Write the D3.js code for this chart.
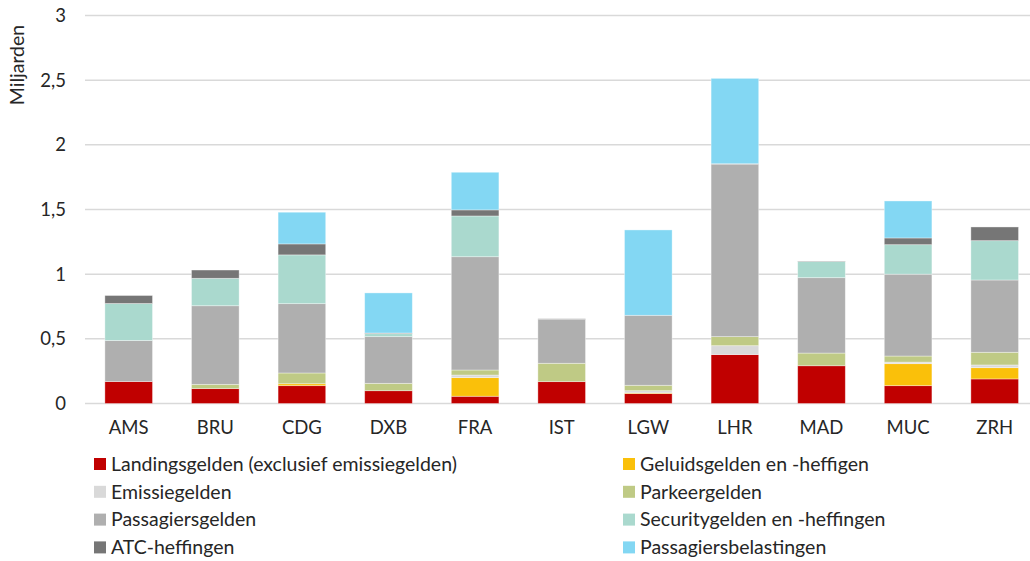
<!DOCTYPE html>
<html>
<head>
<meta charset="utf-8">
<script src="https://cdn.jsdelivr.net/npm/d3@7"></script>
<style>
body { margin: 0; background: #fff; }
svg text { font-family: Lato, "Open Sans", sans-serif; fill: #262626; }
</style>
</head>
<body>
<script>
var airports = ["AMS", "BRU", "CDG", "DXB", "FRA", "IST", "LGW", "LHR", "MAD", "MUC", "ZRH"];

var seriesNames = ["Landingsgelden (exclusief emissiegelden)", "Geluidsgelden en -heffigen",
    "Emissiegelden", "Parkeergelden", "Passagiersgelden", "Securitygelden en -heffingen",
    "ATC-heffingen", "Passagiersbelastingen"];

// values in miljarden, one array per series, in airport order
var landing    = [0.170, 0.115, 0.138, 0.099, 0.056, 0.169, 0.077, 0.378, 0.292, 0.138, 0.190];
var geluid     = [0,     0,     0.015, 0,     0.144, 0,     0.005, 0,     0,     0.170, 0.087];
var emissie    = [0,     0,     0,     0,     0.020, 0,     0.017, 0.069, 0,     0.012, 0.021];
var parkeer    = [0,     0.033, 0.083, 0.057, 0.039, 0.142, 0.042, 0.070, 0.098, 0.047, 0.098];
var passagiers = [0.317, 0.608, 0.536, 0.361, 0.876, 0.340, 0.541, 1.333, 0.583, 0.633, 0.559];
var security   = [0.286, 0.212, 0.377, 0.023, 0.315, 0,     0,     0,     0.124, 0.228, 0.304];
var atc        = [0.062, 0.064, 0.085, 0.005, 0.047, 0.004, 0,     0.004, 0.004, 0.052, 0.106];
var belasting  = [0,     0,     0.245, 0.310, 0.291, 0,     0.660, 0.660, 0,     0.286, 0];

var yTicks = [0, 0.5, 1, 1.5, 2, 2.5, 3];

var colors = ["#C00000", "#FAC00A", "#D9D9D9", "#BFCA85", "#AFAFAF", "#AAD9CE", "#767676", "#83D7F3"];

var allSeries = [landing, geluid, emissie, parkeer, passagiers, security, atc, belasting];

var width = 1030, height = 561;

var svg = d3.select("body").append("svg")
    .attr("width", width)
    .attr("height", height);

var x = d3.scaleBand().domain(airports).range([85.4, 1038]).paddingInner(0.45).paddingOuter(0.225);
var y = d3.scaleLinear().domain([0, 3]).range([403.5, 15.5]);

// table for the stack
var table = airports.map(function(a, i) {
    var row = {airport: a};
    seriesNames.forEach(function(s, j) { row[s] = allSeries[j][i]; });
    return row;
});
var stacked = d3.stack().keys(seriesNames)(table);

// gridlines
svg.append("g")
    .selectAll("line")
    .data(yTicks)
    .enter().append("line")
    .attr("x1", 85).attr("x2", 1030)
    .attr("y1", function(d) { return y(d); })
    .attr("y2", function(d) { return y(d); })
    .attr("stroke", "#d9d9d9")
    .attr("stroke-width", 1.5);

// y axis labels
var yAxis = d3.axisLeft(y)
    .tickValues(yTicks)
    .tickSize(0)
    .tickPadding(0)
    .tickFormat(function(d) { return String(d).replace(".", ","); });

svg.append("g")
    .attr("transform", "translate(66,0)")
    .call(yAxis)
    .call(function(g) { g.select(".domain").remove(); })
    .selectAll("text")
    .style("font-family", "Lato, sans-serif")
    .style("font-size", "18.5px")
    .attr("fill", "#404040");

svg.append("text")
    .attr("transform", "translate(24,65) rotate(-90)")
    .attr("text-anchor", "middle")
    .style("font-size", "19.5px")
    .text("Miljarden");

// bars
svg.append("g")
    .selectAll("g")
    .data(stacked)
    .enter().append("g")
    .attr("fill", function(d, i) { return colors[i]; })
    .selectAll("rect")
    .data(function(d) { return d; })
    .enter().append("rect")
    .attr("x", function(d) { return x(d.data.airport); })
    .attr("width", x.bandwidth())
    .attr("y", function(d) { return y(d[1]); })
    .attr("height", function(d) { return Math.max(0, y(d[0]) - y(d[1])); })
    .attr("stroke", "#ffffff")
    .attr("stroke-opacity", 0.45)
    .attr("stroke-width", 0.8);

// x axis
var xAxis = d3.axisBottom(x).tickSize(0).tickPadding(0);
svg.append("g")
    .attr("transform", "translate(0,420)")
    .call(xAxis)
    .call(function(g) { g.select(".domain").remove(); })
    .selectAll("text")
    .attr("dy", "0.75em")
    .style("font-family", "Lato, sans-serif")
    .style("font-size", "18.5px")
    .attr("fill", "#404040");

// legend, two columns
var legend = svg.append("g")
    .selectAll("g")
    .data(seriesNames)
    .enter().append("g")
    .attr("transform", function(d, i) {
        var col = i % 2, row = Math.floor(i / 2);
        return "translate(" + (col === 0 ? 94 : 623) + "," + (464 + row * 27.8) + ")";
    });

legend.append("rect")
    .attr("x", 0).attr("y", -6)
    .attr("width", 12).attr("height", 12)
    .attr("fill", function(d, i) { return colors[i]; });

legend.append("text")
    .attr("x", 17)
    .attr("dy", "0.35em")
    .style("font-size", "19.5px")
    .text(function(d) { return d; });
</script>
</body>
</html>
